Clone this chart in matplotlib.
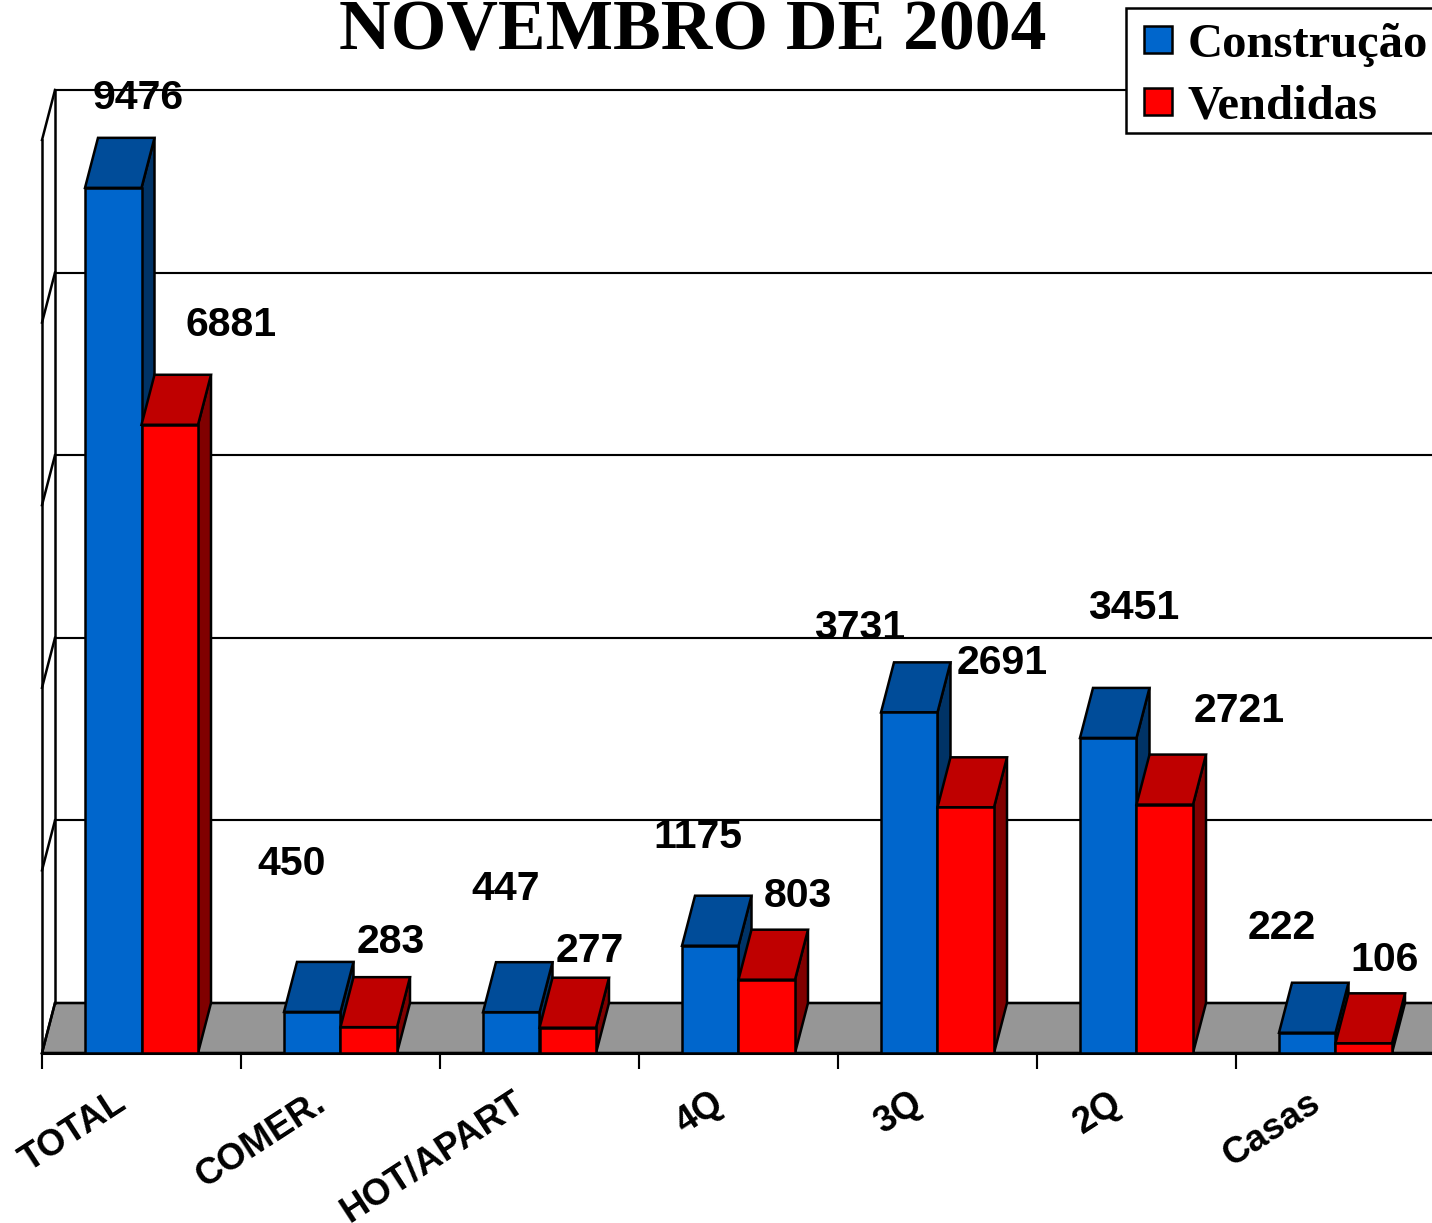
import matplotlib
matplotlib.use("Agg")
import matplotlib.pyplot as plt
from matplotlib.patches import Polygon, Patch, Rectangle
from matplotlib.transforms import ScaledTranslation

categories = ["TOTAL", "COMER.", "HOT/APART", "4Q", "3Q", "2Q", "Casas"]
construcao = [9476, 450, 447, 1175, 3731, 3451, 222]
vendidas = [6881, 283, 277, 803, 2691, 2721, 106]
title = "NOVEMBRO DE 2004"
series_names = ["Construção", "Vendidas"]
grid_values = [0, 2000, 4000, 6000, 8000, 10000]

# label placement in pixels of the image (centre x, centre y)
label_pos_c = [(138, 94), (292, 860), (506, 885), (698, 833), (860, 624), (1134, 604), (1282, 924)]
label_pos_v = [(231, 321), (391, 938), (590, 947), (798, 892), (1002, 659), (1239, 707), (1385, 956)]

W, H = 1432, 1223
LEFT, BASE, TOP = 42, 1053, 90
PX_X = 199.0          # pixels per category
PX_Y = 0.0913         # pixels per unit
DX = 13 / PX_X        # depth of the 3-D effect in data units
DY = 50 / PX_Y
BAR = 56.5 / PX_X
LW = 1.8

fig = plt.figure(figsize=(W / 100, H / 100), dpi=100, facecolor="white")
ax = fig.add_axes([LEFT / W, 1 - BASE / H, (W - LEFT) / W, (BASE - TOP) / H])
ax.set_xlim(0, (W - LEFT) / PX_X)
ax.set_ylim(0, (BASE - TOP) / PX_Y)
ax.set_facecolor("none")
for s in ("top", "right"):
    ax.spines[s].set_visible(False)
ax.spines["left"].set_bounds(0, 10000)
ax.spines["left"].set_linewidth(LW)
ax.spines["bottom"].set_linewidth(LW + 0.4)
ax.set_yticks([])

xmax = ax.get_xlim()[1]
# floor
ax.add_patch(Polygon([(0, 0), (xmax + 1, 0), (xmax + 1 + DX, DY), (DX, DY)],
                     closed=True, facecolor="#969696", edgecolor="black",
                     linewidth=LW, zorder=1, clip_on=False))
# back wall grid and left wall slants
for g in grid_values:
    ax.plot([DX, xmax + 1], [g + DY, g + DY], color="black", lw=LW * 0.85, zorder=1.5, clip_on=False)
    ax.plot([0, DX], [g, g + DY], color="black", lw=LW, zorder=1.5, clip_on=False)
ax.plot([DX, DX], [DY, 10000 + DY], color="black", lw=LW, zorder=1.5, clip_on=False)


def bar3d(left, value, front, top, side, z):
    right = left + BAR
    ax.add_patch(Polygon([(right, 0), (right + DX, DY), (right + DX, value + DY), (right, value)],
                         closed=True, facecolor=side, edgecolor="black", lw=LW, zorder=z, joinstyle="miter"))
    ax.add_patch(Polygon([(left, value), (right, value), (right + DX, value + DY), (left + DX, value + DY)],
                         closed=True, facecolor=top, edgecolor="black", lw=LW, zorder=z, joinstyle="miter"))
    return ax.bar(left, value, width=BAR, align="edge", color=front, edgecolor="black",
                  linewidth=LW, zorder=z + 0.1)


for i, (c, v) in enumerate(zip(construcao, vendidas)):
    centre = i + 0.5
    bar3d(centre - BAR, c, "#0066CC", "#004C99", "#003366", 3 + i)
    bar3d(centre, v, "#FF0000", "#BF0000", "#800000", 3.3 + i)

# ticks
ax.set_xticks(range(len(categories)))
ax.tick_params(axis="x", which="major", length=11.5, width=LW * 0.85, labelbottom=False)
ax.set_xticks([i + 0.5 for i in range(len(categories))], minor=True)
ax.set_xticklabels(categories, minor=True, rotation=33, ha="right", va="top",
                   rotation_mode="anchor", family="Liberation Sans", fontweight="bold", fontsize=26.5)
ax.tick_params(axis="x", which="minor", length=0, pad=0)
shift = ScaledTranslation(-28 / 100, -32 / 100, fig.dpi_scale_trans)
for lab in ax.get_xticklabels(minor=True):
    lab.set_transform(lab.get_transform() + shift)

# value labels
for vals, pos in ((construcao, label_pos_c), (vendidas, label_pos_v)):
    for val, (px, py) in zip(vals, pos):
        fig.text(px / W, 1 - py / H, str(val), ha="center", va="center_baseline",
                 family="Liberation Sans", fontweight="bold", fontsize=29.5, color="black", zorder=30)

fig.text(693 / W, 1 - 49.5 / H, title, ha="center", va="baseline",
         family="Liberation Serif", fontweight="bold", fontsize=51.5, color="black")

# legend: frame drawn apart so it can run off the right edge at the reference height
fig.add_artist(Rectangle((1126 / W, 1 - 133 / H), 400 / W, 125 / H, transform=fig.transFigure,
                         facecolor="white", edgecolor="black", linewidth=LW, zorder=5))
handles = [Patch(facecolor="#0066CC", edgecolor="black", linewidth=LW),
           Patch(facecolor="#FF0000", edgecolor="black", linewidth=LW)]
leg = fig.legend(handles, series_names, loc="upper left",
                 bbox_to_anchor=(1129 / W, 1 - 8 / H), bbox_transform=fig.transFigure,
                 borderaxespad=0, frameon=False,
                 prop={"family": "Liberation Serif", "weight": "bold", "size": 35},
                 handlelength=0.58, handleheight=0.48, handletextpad=0.33,
                 borderpad=0.3, labelspacing=0.37)
leg.set_zorder(6)

fig.savefig("out.png", dpi=100, facecolor="white")
